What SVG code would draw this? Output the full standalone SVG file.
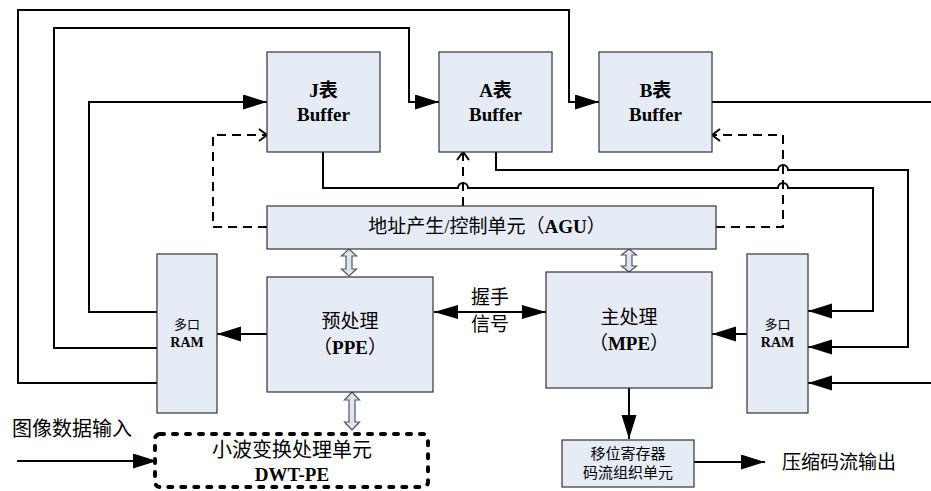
<svg xmlns="http://www.w3.org/2000/svg" width="931" height="491" viewBox="0 0 931 491">
<defs>
<style>
.box{fill:#E6ECF5;stroke:#333;stroke-width:1.2}
.ln{fill:none;stroke:#000;stroke-width:2}
.dash{fill:none;stroke:#000;stroke-width:2;stroke-dasharray:9 6}
.dbl{fill:#DCE6F2;stroke:#555;stroke-width:1.2}
.t{font-family:"Liberation Serif","Noto Sans CJK SC",serif;fill:#000;text-anchor:middle}
.b{font-weight:bold}
</style>
<marker id="ah" markerUnits="userSpaceOnUse" markerWidth="25" markerHeight="16" refX="24" refY="7.5" orient="auto">
<path d="M0,0 L24,7.5 L0,15 z" fill="#000"/>
</marker>
<marker id="ahs" markerUnits="userSpaceOnUse" markerWidth="25" markerHeight="16" refX="24" refY="7" orient="auto-start-reverse">
<path d="M0,0 L24,7 L0,14 z" fill="#000"/>
</marker>
<marker id="oh" markerUnits="userSpaceOnUse" markerWidth="12" markerHeight="14" refX="9" refY="7" orient="auto">
<path d="M1,1 L9,7 L1,13" fill="none" stroke="#000" stroke-width="2"/>
</marker>
</defs>

<g id="connectors">
<path class="ln" d="M157,383 L18,383 L18,10 L569,10 L569,102 L599,102" marker-end="url(#ah)"/>
<path class="ln" d="M157,348 L54,348 L54,28 L409,28 L409,102 L439,102" marker-end="url(#ah)"/>
<path class="ln" d="M157,312 L89,312 L89,102 L267,102" marker-end="url(#ah)"/>
<path class="ln" d="M323,152 L323,188 L458,188 A5,5 0 0 1 468,188 L778,188 A5,5 0 0 1 788,188 L873,188 L873,311 L808,311" marker-end="url(#ah)"/>
<path class="ln" d="M496,152 L496,170 L778,170 A5,5 0 0 1 788,170 L908,170 L908,347 L808,347" marker-end="url(#ah)"/>
<path class="ln" d="M931,383 L808,383" marker-end="url(#ah)"/>
<path class="ln" d="M712,102 L931,102"/>
<path class="dash" d="M267,227 L213,227 L213,135 L267,135" marker-end="url(#oh)"/>
<path class="dash" d="M716,227 L783,227 L783,135 L712,135" marker-end="url(#oh)"/>
<path class="dash" d="M463,206 L463,152" marker-end="url(#oh)"/>
<path class="ln" d="M267,334 L217,334" marker-end="url(#ah)"/>
<path class="ln" d="M747,334 L712,334" marker-end="url(#ah)"/>
<path class="ln" d="M434,312 L546,312" marker-start="url(#ahs)" marker-end="url(#ahs)"/>
<path class="ln" d="M629,388 L629,439" marker-end="url(#ah)"/>
<path class="ln" d="M694,462 L765,462" marker-end="url(#ah)"/>
<path class="ln" d="M17,461 L157,461" marker-end="url(#ah)"/>
<polygon class="dbl" points="349,249 356.5,256 352,256 352,269 356.5,269 349,276 341.5,269 346,269 346,256 341.5,256"/>
<polygon class="dbl" points="629,249 636.5,255 632,255 632,266 636.5,266 629,272 621.5,266 626,266 626,255 621.5,255"/>
<polygon class="dbl" points="352,392 359.5,400 355,400 355,422 359.5,422 352,430 344.5,422 349,422 349,400 344.5,400"/>
</g>

<g id="j-buffer">
<rect class="box" x="267" y="52" width="113" height="100"/>
<text class="t b" x="323.5" y="97" font-size="19">J表</text>
<text class="t b" x="323.5" y="121" font-size="19">Buffer</text>
</g>
<g id="a-buffer">
<rect class="box" x="439" y="52" width="113" height="100"/>
<text class="t b" x="495.5" y="97" font-size="19">A表</text>
<text class="t b" x="495.5" y="121" font-size="19">Buffer</text>
</g>
<g id="b-buffer">
<rect class="box" x="599" y="52" width="113" height="100"/>
<text class="t b" x="655.5" y="97" font-size="19">B表</text>
<text class="t b" x="655.5" y="121" font-size="19">Buffer</text>
</g>
<g id="agu">
<rect class="box" x="267" y="206" width="449" height="43"/>
<text class="t" x="487" y="233" font-size="19">地址产生/控制单元（<tspan class="b">AGU</tspan>）</text>
</g>
<g id="ram-left">
<rect class="box" x="157" y="254" width="60" height="159"/>
<text class="t" x="187" y="329" font-size="13">多口</text>
<text class="t b" x="187" y="347" font-size="14">RAM</text>
</g>
<g id="ppe">
<rect class="box" x="267" y="277" width="166" height="115"/>
<text class="t" x="350" y="328" font-size="19">预处理</text>
<text class="t" x="350" y="354" font-size="19">（<tspan class="b">PPE</tspan>）</text>
</g>
<g id="handshake-label">
<text class="t" x="490" y="304" font-size="19">握手</text>
<text class="t" x="490" y="331" font-size="19">信号</text>
</g>
<g id="mpe">
<rect class="box" x="546" y="272" width="166" height="116"/>
<text class="t" x="629" y="324" font-size="19">主处理</text>
<text class="t" x="629" y="350" font-size="19">（<tspan class="b">MPE</tspan>）</text>
</g>
<g id="ram-right">
<rect class="box" x="747" y="254" width="61" height="159"/>
<text class="t" x="777.5" y="329" font-size="13">多口</text>
<text class="t b" x="777.5" y="347" font-size="14">RAM</text>
</g>
<g id="shift-reg">
<rect class="box" x="562" y="440" width="132" height="47"/>
<text class="t" x="628" y="459" font-size="15">移位寄存器</text>
<text class="t" x="628" y="478" font-size="15">码流组织单元</text>
</g>
<g id="dwt-pe">
<rect x="155" y="434" width="273" height="53" rx="5" fill="none" stroke="#000" stroke-width="4" stroke-linecap="round" stroke-dasharray="4 9"/>
<text class="t" x="292" y="457" font-size="20">小波变换处理单元</text>
<text class="t b" x="292" y="481" font-size="19">DWT-PE</text>
</g>
<g id="labels">
<text class="t" x="72" y="436" font-size="20">图像数据输入</text>
<text class="t" x="839" y="469" font-size="19">压缩码流输出</text>
</g>
</svg>
